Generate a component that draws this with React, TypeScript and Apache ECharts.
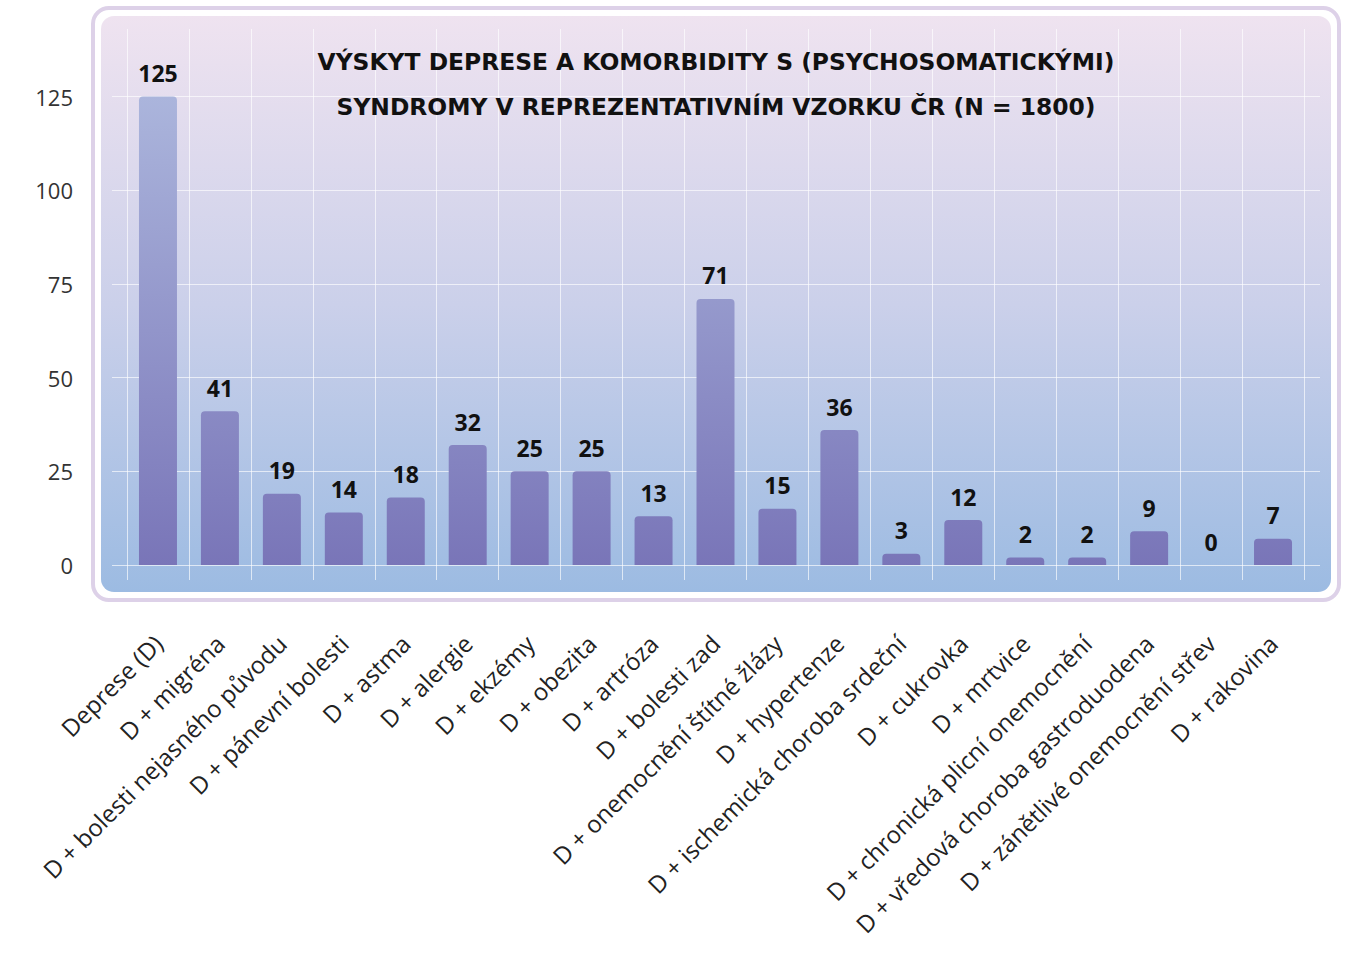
import React, { useEffect, useRef } from "react";
import * as echarts from "echarts";

const categories = [
  "Deprese (D)",
  "D + migréna",
  "D + bolesti nejasného původu",
  "D + pánevní bolesti",
  "D + astma",
  "D + alergie",
  "D + ekzémy",
  "D + obezita",
  "D + artróza",
  "D + bolesti zad",
  "D + onemocnění štítné žlázy",
  "D + hypertenze",
  "D + ischemická choroba srdeční",
  "D + cukrovka",
  "D + mrtvice",
  "D + chronická plicní onemocnění",
  "D + vředová choroba gastroduodena",
  "D + zánětlivé onemocnění střev",
  "D + rakovina",
];

const values = [125, 41, 19, 14, 18, 32, 25, 25, 13, 71, 15, 36, 3, 12, 2, 2, 9, 0, 7];

const yTicks = { min: 0, max: 125, interval: 25 };

const titleLines = [
  "VÝSKYT DEPRESE A KOMORBIDITY S (PSYCHOSOMATICKÝMI)",
  "SYNDROMY V REPREZENTATIVNÍM VZORKU ČR (N = 1800)",
];

const FONT = "'Open Sans', 'Noto Sans', sans-serif";
const TITLE_FONT = "'DejaVu Sans', 'Open Sans', sans-serif";

export default function App() {
  const ref = useRef<HTMLDivElement>(null);
  useEffect(() => {
    document.body.style.margin = "0";
    if (!ref.current) return;
    const chart = echarts.init(ref.current, undefined, { renderer: "svg" });
    const barGrad = new echarts.graphic.LinearGradient(
      0, 96, 0, 565,
      [
        { offset: 0, color: "#abb5dc" },
        { offset: 1, color: "#7975b8" },
      ],
      true
    );
    const panelGrad = new echarts.graphic.LinearGradient(0, 0, 0, 1, [
      { offset: 0, color: "#efe3f0" },
      { offset: 0.5, color: "#cbd0ea" },
      { offset: 1, color: "#9cbbe2" },
    ]);
    const gridLine = { show: true, lineStyle: { color: "rgba(255,255,255,0.65)", width: 1 } };
    chart.setOption({
      animation: false,
      textStyle: { fontFamily: FONT },
      title: {
        text: titleLines.join("\n"),
        left: 711,
        top: 34,
        textAlign: "center",
        textStyle: {
          fontFamily: TITLE_FONT,
          fontSize: 23.4,
          fontWeight: "bold",
          color: "#111",
          lineHeight: 45,
        },
      },
      graphic: [
        {
          type: "rect",
          z: -10,
          shape: { x: 93, y: 8, width: 1246, height: 592, r: 16 },
          style: { fill: "#ffffff", stroke: "#ddd1e8", lineWidth: 4 },
        },
        {
          type: "rect",
          z: -9,
          shape: { x: 101, y: 16, width: 1230, height: 576, r: 13 },
          style: { fill: panelGrad },
        },
      ],
      grid: [
        { left: 112, right: 31, top: 96.5, bottom: 390 },
        { left: 127, right: 47, top: 96.5, bottom: 390 },
        { left: 127, right: 47, top: 29, bottom: 375 },
      ],
      xAxis: [
        { gridIndex: 0, type: "value", show: false },
        {
          gridIndex: 1,
          type: "category",
          data: categories,
          axisLine: { show: false },
          axisTick: { show: false },
          splitLine: { show: false },
          axisLabel: {
            rotate: 45,
            margin: 74,
            interval: 0,
            fontSize: 24,
            color: "#222",
            fontFamily: FONT,
          },
        },
        {
          gridIndex: 2,
          type: "category",
          data: categories,
          axisLine: { show: false },
          axisTick: { show: false },
          axisLabel: { show: false },
          splitLine: { ...gridLine, interval: 0 },
        },
      ],
      yAxis: [
        {
          gridIndex: 0,
          type: "value",
          min: yTicks.min,
          max: yTicks.max,
          interval: yTicks.interval,
          axisLine: { show: false },
          axisTick: { show: false },
          splitLine: gridLine,
          axisLabel: { margin: 39, fontSize: 22, color: "#333", fontFamily: FONT },
        },
        {
          gridIndex: 1,
          type: "value",
          min: yTicks.min,
          max: yTicks.max,
          show: false,
          splitLine: { show: false },
        },
        {
          gridIndex: 2,
          type: "value",
          show: false,
          splitLine: { show: false },
        },
      ],
      series: [
        {
          type: "bar",
          xAxisIndex: 1,
          yAxisIndex: 1,
          data: values,
          barWidth: 38,
          itemStyle: { color: barGrad, borderRadius: [4, 4, 0, 0] },
          label: {
            show: true,
            position: "top",
            distance: 12,
            fontSize: 23,
            fontWeight: "bold",
            color: "#111",
            fontFamily: FONT,
          },
        },
      ],
    });
    return () => chart.dispose();
  }, []);
  return <div ref={ref} style={{ width: 1351, height: 955 }} />;
}
